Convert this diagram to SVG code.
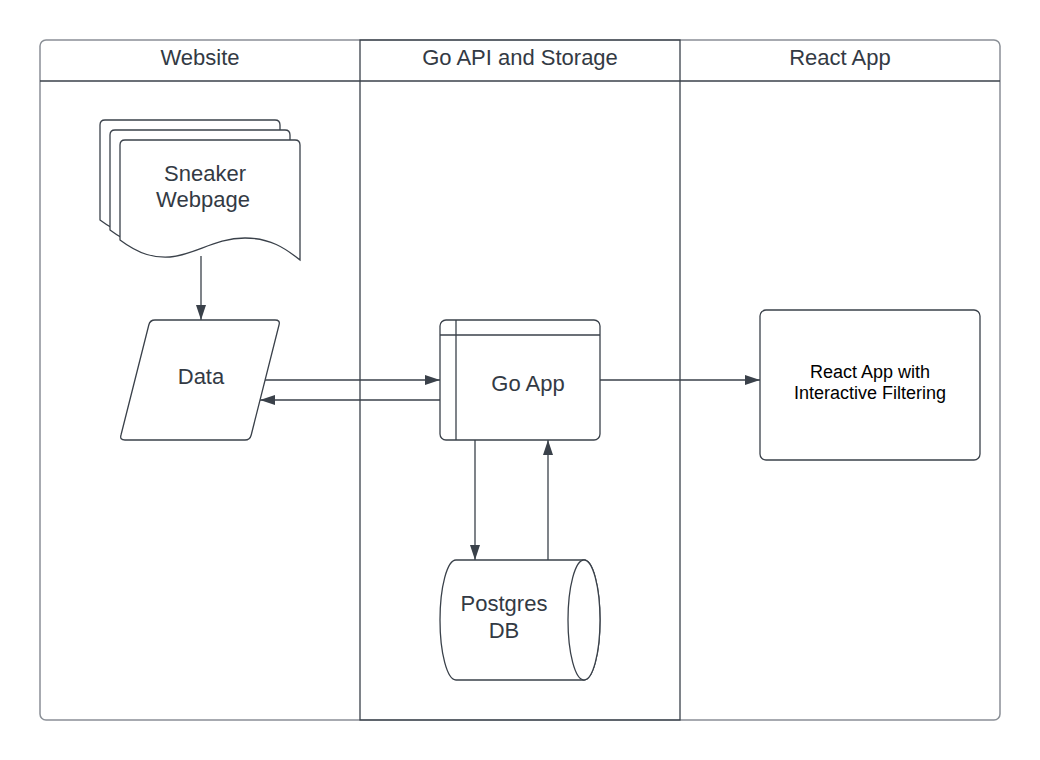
<svg xmlns="http://www.w3.org/2000/svg" width="1040" height="760" viewBox="0 0 1040 760">
<defs>
<style>
.shape{fill:#ffffff;stroke:#3a414a;stroke-width:1.3;}
.lbl{font-family:"Liberation Sans",Arial,sans-serif;font-size:22px;fill:#333a44;text-anchor:middle;}
.small{font-family:"Liberation Sans",Arial,sans-serif;font-size:18px;fill:#000000;text-anchor:middle;}
.conn{fill:none;stroke:#3a414a;stroke-width:1.3;}
</style>
<marker id="arr" viewBox="0 0 15 10" refX="15" refY="5" markerWidth="15" markerHeight="10" markerUnits="userSpaceOnUse" orient="auto">
<path d="M0,0 L15,5 L0,10 Z" fill="#3a414a"/>
</marker>
<path id="docshape" d="M0,100 L0,5 Q0,0 5,0 L175,0 Q180,0 180,5 L180,120 C165,108 150,98 125,98 C95,98 75,115 50,117 C35,118 20,115 0,100 Z"/>
</defs>
<rect width="1040" height="760" fill="#ffffff"/>
<g id="pool">
<rect x="40" y="40" width="960" height="680" rx="6" fill="#ffffff" stroke="#8a8f96" stroke-width="1.5"/>
<rect x="360" y="40" width="320" height="680" fill="none" stroke="#3a414a" stroke-width="1.3"/>
<line x1="40" y1="81" x2="1000" y2="81" stroke="#3a414a" stroke-width="1.3"/>
</g>
<g id="lane-website"><text class="lbl" x="200" y="65">Website</text></g>
<g id="lane-go"><text class="lbl" x="520" y="65">Go API and Storage</text></g>
<g id="lane-react"><text class="lbl" x="840" y="65">React App</text></g>
<g id="connectors">
<line class="conn" x1="201" y1="256" x2="201" y2="320" marker-end="url(#arr)"/>
<line class="conn" x1="265" y1="380" x2="440" y2="380" marker-end="url(#arr)"/>
<line class="conn" x1="440" y1="400" x2="260" y2="400" marker-end="url(#arr)"/>
<line class="conn" x1="600" y1="380" x2="760" y2="380" marker-end="url(#arr)"/>
<line class="conn" x1="475" y1="440" x2="475" y2="560" marker-end="url(#arr)"/>
<line class="conn" x1="548" y1="560" x2="548" y2="440" marker-end="url(#arr)"/>
</g>
<g id="sneaker-webpage">
<use href="#docshape" class="shape" transform="translate(100,120)"/>
<use href="#docshape" class="shape" transform="translate(110,130)"/>
<use href="#docshape" class="shape" transform="translate(120,140)"/>
<text class="lbl" x="205" y="181">Sneaker</text>
<text class="lbl" x="203" y="207">Webpage</text>
</g>
<g id="data">
<path class="shape" d="M155,320 L275,320 Q280.5,320 279,325 L251.2,435 Q250,440 245,440 L125,440 Q119.5,440 121,435 L148.8,325 Q150,320 155,320 Z"/>
<text class="lbl" x="201" y="384">Data</text>
</g>
<g id="go-app">
<rect class="shape" x="440" y="320" width="160" height="120" rx="6"/>
<line class="conn" x1="456" y1="320" x2="456" y2="440"/>
<line class="conn" x1="440" y1="335" x2="600" y2="335"/>
<text class="lbl" x="528" y="391">Go App</text>
</g>
<g id="postgres-db">
<path class="shape" d="M456,560 L584,560 A16,60 0 0 1 584,680 L456,680 A16,60 0 0 1 456,560 Z"/>
<ellipse class="shape" cx="584" cy="620" rx="16" ry="60"/>
<text class="lbl" x="504" y="611">Postgres</text>
<text class="lbl" x="504" y="638">DB</text>
</g>
<g id="react-app">
<rect class="shape" x="760" y="310" width="220" height="150" rx="6"/>
<text class="small" x="870" y="378">React App with</text>
<text class="small" x="870" y="399">Interactive Filtering</text>
</g>
</svg>
